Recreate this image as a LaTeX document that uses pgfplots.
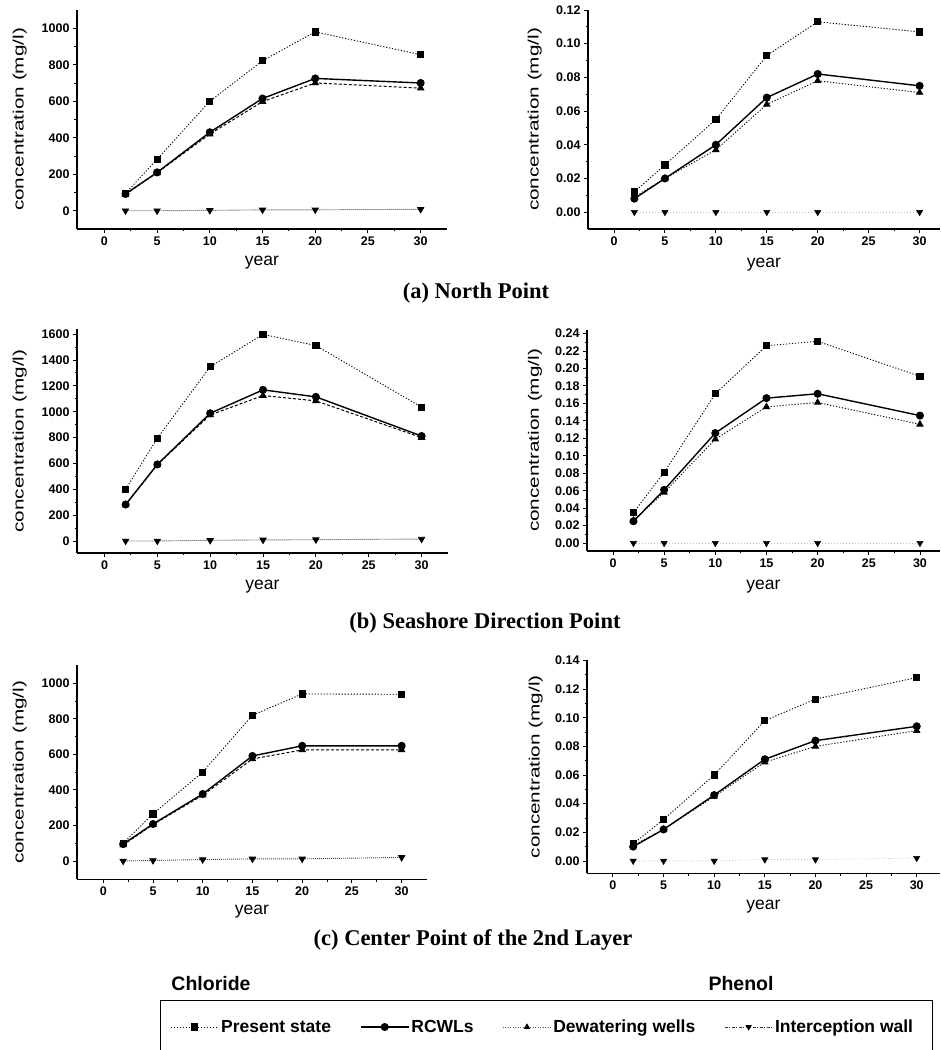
\documentclass[border=0pt]{standalone}
\usepackage{pgfplots}
\pgfplotsset{compat=1.18}
\usepackage{fontspec}
\usepackage{graphicx}
\setmainfont{Liberation Sans}
\newfontfamily\serifb{Liberation Serif}
\newcommand{\tickfont}{\fontsize{12.5}{14}\selectfont\bfseries}
\newcommand{\labfont}{\fontsize{17.5}{19}\selectfont}
\newcommand{\ylab}{\fontsize{15}{17}\selectfont\scalebox{1.38}[1]{concentration (mg/l)}}
\pgfplotsset{
  ps/.style={black, line width=0.9pt, dash pattern=on 1.2pt off 1.8pt, mark=square*, mark size=3.1pt, mark options={solid}},
  rc/.style={black, line width=1.4pt, solid, mark=*, mark size=3.3pt, mark options={solid}},
  dwc/.style={black, line width=1pt, dash pattern=on 3pt off 2pt, mark=triangle*, mark size=3.5pt, mark options={solid}},
  dwp/.style={black, line width=0.9pt, dash pattern=on 1.2pt off 1.8pt, mark=triangle*, mark size=3.5pt, mark options={solid}},
  iwc/.style={black!75, line width=0.9pt, dash pattern=on 1pt off 1pt, mark=triangle*, mark size=3.5pt, mark options={solid, rotate=180, fill=black, draw=black}},
  iwp/.style={black!25, line width=0.6pt, dash pattern=on 1pt off 2pt, mark=triangle*, mark size=3.5pt, mark options={solid, rotate=180, fill=black, draw=black}},
  panel/.style={
    scale only axis, anchor=south west, clip=false,
    axis x line=bottom, axis y line=left,
    axis line style={line width=1.2pt, -},
    tick style={line width=0.9pt, black},
    tick align=outside, major tick length=4pt, minor tick length=2.5pt,
    xtick={0,5,10,15,20,25,30}, minor x tick num=1, minor y tick num=1,
    ticklabel style={font=\tickfont},
    /pgf/number format/assume math mode=true,
    /pgf/number format/1000 sep={},
    scaled y ticks=false,
    xlabel={\labfont year},
    xlabel style={inner sep=0pt, anchor=north},
    ylabel={\ylab},
    ylabel style={inner sep=0pt, rotate=0, anchor=south},
  },
  phen/.style={yticklabel style={/pgf/number format/.cd, fixed, fixed zerofill, precision=2}},
}
\begin{document}
\begin{tikzpicture}[x=1pt,y=1pt]
\path[use as bounding box] (0pt,0pt) rectangle (941pt,1050pt);

% (a) left: chloride, North Point
\begin{axis}[panel, at={(77pt,821pt)}, width=370pt, height=219pt,
  xmin=-2.6, xmax=32.5, ymin=-100, ymax=1100,
  ytick={0,200,400,600,800,1000},
  xlabel style={at={(axis description cs:0.5,-0.123)}},
  ylabel style={at={(axis description cs:-0.135,0.5)}}]
\addplot[iwc] coordinates {(2,0)(5,0)(10,2)(15,5)(20,5)(30,8)};
\addplot[dwc] coordinates {(2,90)(5,208)(10,420)(15,598)(20,700)(30,672)};
\addplot[rc] coordinates {(2,92)(5,210)(10,430)(15,615)(20,725)(30,700)};
\addplot[ps] coordinates {(2,95)(5,282)(10,600)(15,822)(20,980)(30,855)};
\end{axis}

% (a) right: phenol, North Point
\begin{axis}[panel, phen, at={(588pt,821pt)}, width=352pt, height=219pt,
  xmin=-2.55, xmax=32, ymin=-0.01, ymax=0.12,
  ytick={0,0.02,0.04,0.06,0.08,0.10,0.12},
  xlabel style={at={(axis description cs:0.5,-0.13)}},
  ylabel style={at={(axis description cs:-0.131,0.5)}}]
\addplot[iwp] coordinates {(2,0)(5,0)(10,0)(15,0)(20,0)(30,0)};
\addplot[dwp] coordinates {(2,0.009)(5,0.020)(10,0.037)(15,0.064)(20,0.078)(30,0.071)};
\addplot[rc] coordinates {(2,0.008)(5,0.020)(10,0.040)(15,0.068)(20,0.082)(30,0.075)};
\addplot[ps] coordinates {(2,0.012)(5,0.028)(10,0.055)(15,0.093)(20,0.113)(30,0.107)};
\end{axis}

% (b) left: chloride, Seashore Direction Point
\begin{axis}[panel, at={(77pt,497pt)}, width=371pt, height=224pt,
  xmin=-2.6, xmax=32.5, ymin=-93, ymax=1640,
  ytick={0,200,400,600,800,1000,1200,1400,1600},
  xlabel style={at={(axis description cs:0.5,-0.12)}},
  ylabel style={at={(axis description cs:-0.135,0.5)}}]
\addplot[iwc] coordinates {(2,0)(5,0)(10,5)(15,8)(20,10)(30,15)};
\addplot[dwc] coordinates {(2,280)(5,590)(10,975)(15,1125)(20,1084)(30,800)};
\addplot[rc] coordinates {(2,282)(5,592)(10,988)(15,1169)(20,1115)(30,812)};
\addplot[ps] coordinates {(2,400)(5,795)(10,1348)(15,1598)(20,1512)(30,1035)};
\end{axis}

% (b) right: phenol, Seashore Direction Point
\begin{axis}[panel, phen, at={(587pt,499pt)}, width=353pt, height=221pt,
  xmin=-2.54, xmax=31.96, ymin=-0.009, ymax=0.244,
  ytick={0,0.02,0.04,0.06,0.08,0.10,0.12,0.14,0.16,0.18,0.20,0.22,0.24},
  xlabel style={at={(axis description cs:0.5,-0.13)}},
  ylabel style={at={(axis description cs:-0.127,0.5)}}]
\addplot[iwp] coordinates {(2,0)(5,0)(10,0)(15,0)(20,0)(30,0)};
\addplot[dwp] coordinates {(2,0.026)(5,0.058)(10,0.119)(15,0.156)(20,0.161)(30,0.136)};
\addplot[rc] coordinates {(2,0.025)(5,0.061)(10,0.126)(15,0.166)(20,0.171)(30,0.146)};
\addplot[ps] coordinates {(2,0.035)(5,0.081)(10,0.171)(15,0.226)(20,0.231)(30,0.191)};
\end{axis}

% (c) left: chloride, Center Point of the 2nd Layer
\begin{axis}[panel, at={(77pt,170.7pt)}, width=350pt, height=213.8pt,
  xmin=-2.64, xmax=32.55, ymin=-103, ymax=1100,
  ytick={0,200,400,600,800,1000},
  xlabel style={at={(axis description cs:0.5,-0.12)}},
  ylabel style={at={(axis description cs:-0.143,0.5)}}]
\addplot[iwc] coordinates {(2,0)(5,3)(10,8)(15,12)(20,12)(30,20)};
\addplot[dwc] coordinates {(2,90)(5,205)(10,370)(15,574)(20,625)(30,625)};
\addplot[rc] coordinates {(2,95)(5,208)(10,377)(15,591)(20,648)(30,648)};
\addplot[ps] coordinates {(2,100)(5,265)(10,500)(15,820)(20,940)(30,938)};
\end{axis}

% (c) right: phenol, Center Point of the 2nd Layer
\begin{axis}[panel, phen, at={(587pt,176.7pt)}, width=353pt, height=212.9pt,
  xmin=-2.56, xmax=32.3, ymin=-0.0086, ymax=0.14,
  ytick={0,0.02,0.04,0.06,0.08,0.10,0.12,0.14},
  xlabel style={at={(axis description cs:0.5,-0.127)}},
  ylabel style={at={(axis description cs:-0.125,0.5)}}]
\addplot[iwp] coordinates {(2,0)(5,0)(10,0)(15,0.001)(20,0.001)(30,0.002)};
\addplot[dwp] coordinates {(2,0.011)(5,0.022)(10,0.045)(15,0.069)(20,0.080)(30,0.091)};
\addplot[rc] coordinates {(2,0.010)(5,0.022)(10,0.046)(15,0.071)(20,0.084)(30,0.094)};
\addplot[ps] coordinates {(2,0.012)(5,0.029)(10,0.060)(15,0.098)(20,0.113)(30,0.128)};
\end{axis}

% captions
\node[anchor=base, font=\serifb\fontsize{22.5}{24}\selectfont\bfseries] at (476pt,751pt) {(a) North Point};
\node[anchor=base, font=\serifb\fontsize{22.5}{24}\selectfont\bfseries] at (485pt,421pt) {(b) Seashore Direction Point};
\node[anchor=base, font=\serifb\fontsize{22.5}{24}\selectfont\bfseries] at (473pt,104pt) {(c) Center Point of the 2nd Layer};
\node[anchor=base, font=\fontsize{19.5}{21}\selectfont\bfseries] at (211pt,59pt) {Chloride};
\node[anchor=base, font=\fontsize{19.5}{21}\selectfont\bfseries] at (741pt,59pt) {Phenol};

% legend frame
\draw[line width=0.8pt] (160pt,-5pt) -- (160pt,50pt) -- (932pt,50pt) -- (932pt,-5pt);

% legend
\begin{axis}[hide axis, scale only axis, width=10pt, height=10pt, at={(170pt,23pt)}, anchor=south west,
  xmin=0, xmax=1, ymin=0, ymax=1,
  legend columns=4,
  legend style={draw=none, fill=none, at={(0,0)}, anchor=west, inner sep=0pt,
    font=\fontsize{17.5}{19}\selectfont\bfseries,
    /tikz/every even column/.append style={column sep=27pt}},
  legend image code/.code={\draw[mark repeat=2, mark phase=2, #1] plot coordinates {(0pt,0pt) (24pt,0pt) (48pt,0pt)};}]
\addlegendimage{ps}
\addlegendentry{Present state}
\addlegendimage{rc}
\addlegendentry{RCWLs}
\addlegendimage{black!60, line width=0.7pt, dash pattern=on 1pt off 1.5pt, mark=triangle*, mark size=3pt, mark options={solid, black}}
\addlegendentry{Dewatering wells}
\addlegendimage{black!80, line width=0.7pt, dash pattern=on 3pt off 1.5pt on 1pt off 1.5pt, mark=triangle*, mark size=3pt, mark options={solid, rotate=180, black}}
\addlegendentry{Interception wall}
\end{axis}
\end{tikzpicture}
\end{document}
